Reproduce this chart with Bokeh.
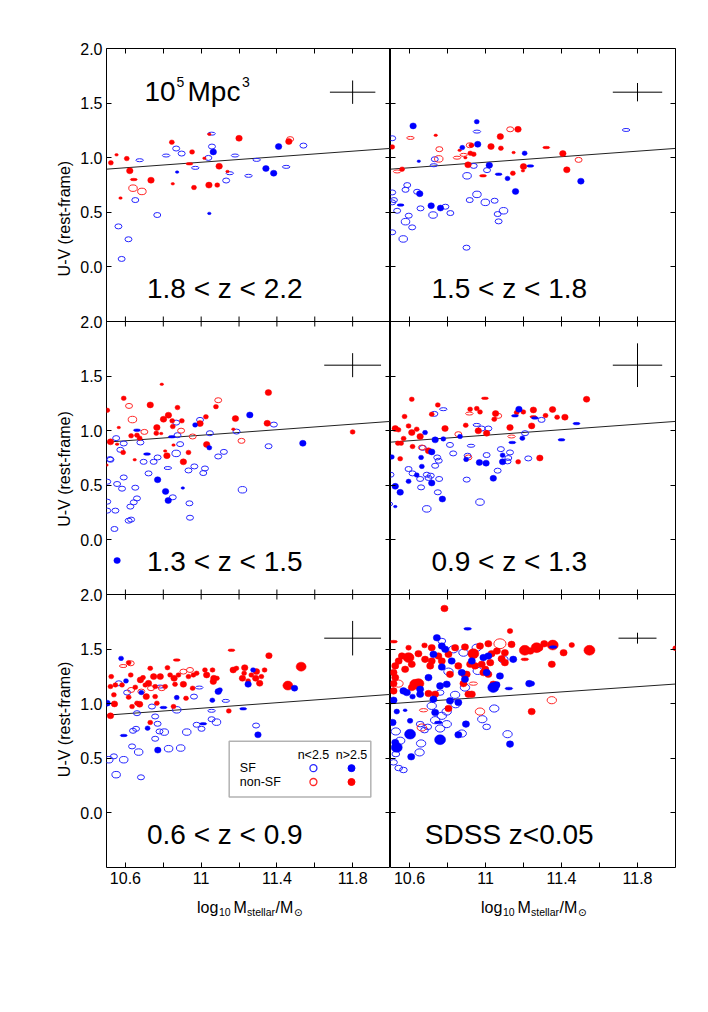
import numpy as np
from bokeh.plotting import figure
from bokeh.layouts import row, column
from bokeh.models import (Range1d, LinearAxis, FixedTicker, CustomJSTickFormatter,
                          Label, ColumnDataSource, BoxAnnotation, Span)
from bokeh.embed import file_html
from bokeh.resources import INLINE

# ---------------------------------------------------------------- data
# each point: (log10 M*, U-V, apparent size class 0 tiny,1 normal,2 large,3 flat,4 very large)
# SF = star forming (blue), Q = non-SF (red); LT: n<2.5 (open), GT: n>2.5 (filled)

P1_SF_LT = [(10.563,0.371,1),(10.616,0.253,1),(10.58,0.073,1),(10.652,0.612,1),(10.768,0.475,1),
            (10.675,0.977,3),(10.815,1.02,3),(10.868,1.084,1),(10.897,1.038,1),(10.969,0.907,3),
            (11.038,0.998,1),(11.055,1.22,3),(11.057,1.102,1),(11.179,1.02,3),(11.132,0.791,1),
            (11.151,0.858,3),(11.25,0.834,3),(11.293,0.98,3),(11.449,0.916,3),(11.54,1.111,1)]
P1_SF_GT = [(10.873,0.868,0),(11.064,1.053,2),(11.043,0.49,0),(11.342,0.901,2),(11.383,0.858,2),
            (11.409,1.102,2)]
P1_Q_LT = [(10.64,0.721,2),(10.687,0.691,2),(11.47,1.17,1)]
P1_Q_GT = [(10.523,0.953,1),(10.553,1.026,0),(10.607,0.992,1),(10.623,0.88,2),(10.735,0.794,2),
           (10.845,1.142,1),(10.85,0.761,0),(10.574,0.63,0),(10.952,1.053,1),(10.938,0.944,3),
           (10.962,0.727,1),(11.041,0.749,2),(11.085,0.749,1),(11.043,1.215,0),(11.095,0.922,2),
           (11.139,0.874,0),(11.2,1.178,2),(11.463,1.148,2),(11.017,0.995,0),(10.644,0.80,3)]

P2_SF_LT = [(10.509,1.178,1),(10.509,0.682,1),(10.518,0.612,1),(10.509,0.591,1),(10.535,0.514,1),
            (10.588,0.749,1),(10.579,0.706,1),(10.64,0.688,1),(10.658,0.536,1),(10.596,0.469,1),
            (10.579,0.414,2),(10.614,0.362,1),(10.567,0.256,2),(10.509,0.317,1),(10.724,0.475,2),
            (10.789,0.551,1),(10.815,0.493,1),(10.903,0.834,2),(10.938,0.925,1),(11.008,0.886,1),
            (10.917,0.612,1),(10.955,0.664,2),(10.999,0.591,2),(11.048,0.606,1),(11.095,0.514,2),
            (11.064,0.484,1),(11.069,0.417,1),(10.9,0.176,1),(11.74,1.254,3),(10.733,0.986,1),
            (10.955,1.239,3),(10.728,0.931,3)]
P2_SF_GT = [(10.619,1.291,2),(10.954,1.33,1),(10.959,1.123,2),(10.878,1.093,1),(10.649,0.968,0),
            (11.02,0.931,2),(11.069,0.849,3),(11.116,0.81,1),(11.206,1.041,1),(11.236,0.925,3),
            (11.158,0.691,2),(11.502,0.785,2),(10.654,0.67,2),(10.553,0.566,3),(10.714,0.56,2),
            (10.763,0.539,2)]
P2_Q_LT = [(10.605,1.181,3),(10.757,1.078,1),(10.754,0.989,2),(10.85,1.0,3),(10.885,1.026,3),
           (10.535,0.874,3),(11.49,0.98,1),(11.13,1.26,1),(10.917,1.114,1)]
P2_Q_GT = [(10.509,1.099,1),(10.738,1.205,0),(10.926,1.114,1),(10.864,1.068,0),(10.92,1.041,1),
           (10.938,1.032,1),(11.029,1.102,2),(11.081,1.087,1),(11.078,1.193,2),(11.171,1.26,2),
           (10.908,0.935,2),(10.987,0.834,3),(11.144,0.858,1),(11.2,0.919,2),(11.197,0.88,0),
           (11.32,1.093,3),(11.407,1.038,2),(11.428,0.889,2),(10.561,0.895,1),(10.894,1.0,0),
           (11.148,1.047,0)]

P3_SF_LT = [(10.551,0.932,1),(10.591,0.883,1),(10.679,0.892,1),(10.573,0.825,1),(10.521,0.734,1),
            (10.696,0.715,1),(10.749,0.715,1),(10.77,0.755,1),(10.868,0.792,2),(10.889,0.877,1),
            (10.875,0.959,1),(10.868,1.074,1),(10.994,1.099,1),(11.046,0.977,1),(11.187,0.992,1),
            (11.384,1.056,1),(11.356,0.858,1),(11.09,0.764,1),(11.12,0.806,1),(10.824,0.658,3),
            (10.722,0.609,1),(10.591,0.572,1),(10.504,0.533,1),(10.556,0.512,1),(10.582,0.469,1),
            (10.652,0.478,1),(10.661,0.38,1),(10.644,0.344,1),(10.626,0.305,1),(10.547,0.268,1),
            (10.504,0.268,1),(10.617,0.176,1),(10.63,0.186,1),(10.542,0.1,1),(10.504,0.35,1),
            (10.85,0.39,1),(10.938,0.335,1),(10.941,0.203,1),(10.933,0.636,1),(10.964,0.673,1),
            (11.011,0.612,1),(11.02,0.654,1),(11.218,0.459,2),(10.518,0.74,1)]
P3_SF_GT = [(10.661,1.005,3),(10.845,0.944,3),(10.714,0.786,3),(10.77,0.551,2),(10.812,0.444,2),
            (10.826,0.361,2),(10.903,0.475,0),(10.968,1.053,1),(11.043,0.844,1),(11.257,1.144,2),
            (11.537,0.885,2),(10.556,-0.189,2)]
P3_Q_LT = [(10.619,1.227,1),(10.637,1.102,2),(10.7,0.989,1),(11.09,1.279,1),(10.894,1.0,1),
           (10.955,0.947,1),(11.213,0.907,1)]
P3_Q_GT = [(10.792,1.425,0),(10.591,1.297,1),(10.731,1.236,2),(10.504,1.187,1),(10.875,1.212,1),
           (10.827,1.142,2),(10.801,1.105,2),(10.847,1.09,1),(10.898,1.09,1),(10.766,1.029,2),
           (10.763,0.977,1),(10.789,0.974,0),(10.85,1.038,1),(10.994,1.065,2),(11.025,1.127,1),
           (11.078,1.22,1),(11.181,1.111,2),(11.355,1.349,2),(11.349,1.068,2),(11.8,0.989,1),
           (10.63,0.953,1),(10.661,0.959,1),(10.675,0.932,1),(10.565,1.029,0),(10.521,0.898,2),
           (10.556,0.877,0),(10.588,0.801,1),(10.819,0.771,2),(10.81,0.814,0),(10.933,0.801,1),
           (10.906,0.715,2),(11.029,0.874,2),(10.854,0.868,0),(10.649,0.734,0),(10.5,0.685,0),
           (11.17,1.014,0)]

P4_SF_LT = [(10.778,1.197,3),(10.731,1.154,1),(10.954,1.053,3),(11.015,1.02,1),(10.813,0.87,1),
            (10.83,0.792,1),(10.67,0.843,1),(10.746,0.755,1),(10.754,0.725,1),(10.735,0.679,1),
            (10.595,0.649,1),(10.616,0.609,1),(10.691,0.597,1),(10.712,0.588,1),(10.756,0.558,1),
            (10.7,0.567,1),(10.656,0.558,1),(10.901,0.552,1),(10.661,0.481,1),(10.749,0.436,1),
            (10.691,0.284,2),(10.971,0.346,2),(10.924,0.862,3),(10.906,0.771,1),(11.006,0.777,1),
            (11.081,0.831,1),(11.129,0.801,1),(11.12,0.75,1),(11.116,0.719,1),(11.064,0.634,1),
            (11.225,0.746,1),(11.208,0.977,1),(10.98,1.02,1),(11.295,1.099,1),(10.498,0.329,0),
            (10.5,0.597,1)]
P4_SF_GT = [(10.682,0.983,1),(10.735,0.916,2),(10.778,0.925,1),(10.866,0.947,1),(10.717,0.806,2),
            (10.661,0.755,1),(10.665,0.673,1),(10.638,0.594,1),(10.595,0.536,1),(10.507,0.76,1),
            (10.525,0.491,2),(10.551,0.436,2),(10.717,0.521,2),(10.773,0.374,2),(10.898,0.737,1),
            (10.968,0.709,2),(11.003,0.703,2),(11.09,0.715,2),(11.09,0.776,1),(11.041,0.564,2),
            (11.194,0.932,1),(11.176,1.197,2),(11.155,1.136,3),(11.4,0.916,3),(11.479,1.065,3),
            (11.141,0.892,3),(11.26,1.117,3),(10.525,0.305,0)]
P4_Q_LT = [(10.915,1.157,3),(11.067,1.136,1),(10.857,0.968,1),(10.665,0.846,1),(10.91,0.755,1),
           (11.137,0.947,3)]
P4_Q_GT = [(10.612,1.288,1),(10.749,1.236,1),(10.574,1.13,1),(10.525,1.02,2),(10.542,1.008,1),
           (10.595,1.044,1),(10.638,1.014,1),(10.612,0.983,2),(10.656,0.947,2),(10.569,0.929,1),
           (10.539,0.886,1),(10.556,0.886,1),(10.616,0.855,1),(10.7,0.816,2),(10.551,0.743,1),
           (10.717,1.151,1),(10.787,1.02,2),(10.896,1.05,1),(10.919,1.197,1),(10.954,1.203,1),
           (10.971,1.172,1),(10.962,0.999,2),(11.006,0.977,2),(10.997,1.297,3),(11.053,1.157,2),
           (11.046,1.105,1),(11.129,1.029,2),(11.243,1.044,2),(11.172,0.715,1),(11.286,0.75,2),
           (11.164,1.166,1),(11.199,1.172,1),(11.252,1.19,2),(11.316,1.139,1),(11.353,1.194,2),
           (11.377,1.124,1),(11.418,1.124,2),(11.532,1.288,2),(11.252,1.127,3)]

P5_SF_LT = [(10.512,0.487,2),(10.539,0.518,1),(10.591,0.487,2),(10.551,0.35,2),(10.635,0.609,1),
            (10.67,0.557,2),(10.64,0.752,1),(10.656,0.77,1),(10.682,0.326,1),(10.661,0.913,1),
            (10.757,0.883,1),(10.74,0.974,1),(10.77,0.816,1),(10.78,0.746,1),(10.805,0.74,2),
            (10.757,0.679,1),(10.828,0.588,2),(10.892,0.594,2),(10.924,0.74,2),(10.871,0.944,2),
            (10.962,1.065,1),(10.976,0.807,1),(11.002,0.77,1),(11.055,0.858,1),(11.081,0.831,2),
            (11.055,0.935,3),(11.13,1.026,3),(10.99,1.148,3),(10.784,1.157,3),(11.29,0.8,1),
            (10.609,1.102,1),(10.565,1.187,1)]
P5_SF_GT = [(10.577,1.415,1),(10.603,1.209,1),(10.684,1.102,1),(10.591,0.709,3),(10.717,0.776,1),
            (10.771,0.575,2),(10.801,0.965,3),(10.871,1.056,1),(11.011,0.816,3),(11.059,1.032,1),
            (11.09,1.111,2),(11.099,1.126,1),(11.248,1.178,2),(11.274,1.309,1),(11.3,0.715,2),
            (11.493,1.142,2),(11.222,0.953,3),(10.503,1.005,2)]
P5_Q_LT = [(10.588,1.345,3),(10.628,1.37,1),(10.63,1.126,1),(10.735,1.142,1),(10.792,1.142,1),
           (10.941,1.309,1),(10.906,1.294,1),(10.684,1.111,1)]
P5_Q_GT = [(10.525,1.248,1),(10.521,1.157,1),(10.547,1.172,1),(10.539,1.081,1),(10.542,0.998,2),
           (10.521,0.889,2),(10.582,1.172,1),(10.617,1.376,1),(10.628,1.263,1),(10.617,1.06,1),
           (10.635,0.974,1),(10.661,1.005,1),(10.652,1.151,1),(10.679,1.218,2),(10.693,1.239,1),
           (10.731,1.324,1),(10.705,1.172,1),(10.722,1.187,2),(10.749,1.248,2),(10.71,1.065,2),
           (10.757,1.157,1),(10.784,1.248,2),(10.757,1.065,1),(10.675,0.995,2),(10.731,0.828,1),
           (10.822,1.33,1),(10.836,1.263,1),(10.81,1.157,1),(10.857,1.233,2),(10.871,1.4,3),
           (10.862,1.178,1),(10.88,1.263,1),(10.906,1.178,2),(10.933,1.248,1),(10.955,1.142,1),
           (10.959,1.263,1),(10.976,1.279,1),(11.029,1.263,2),(11.02,1.309,1),(11.06,1.309,1),
           (11.067,1.233,2),(11.064,1.203,2),(11.083,1.233,1),(11.146,0.934,1),(11.16,1.49,3),
           (11.169,1.309,2),(11.186,1.324,1),(11.218,1.233,2),(11.23,1.33,2),(11.227,1.279,1),
           (11.248,1.209,1),(11.265,1.263,1),(11.288,1.233,2),(11.292,1.294,2),(11.318,1.248,1),
           (11.309,1.187,2),(11.358,1.44,2),(11.335,1.309,1),(11.458,1.166,4),(11.528,1.339,4),
           (10.854,0.974,1),(10.871,1.062,0),(10.92,1.05,1),(10.766,1.005,1)]

P6_SF_LT = [(10.77,1.574,1),(10.831,1.498,2),(10.884,1.467,2),(10.954,1.513,2),(10.892,1.148,2),
            (10.959,1.3,2),(11.094,1.406,2),(10.805,1.294,2),(10.761,1.102,1),(10.717,0.98,2),
            (10.796,0.928,2),(10.77,0.889,2),(10.735,0.849,2),(10.796,0.813,2),(10.761,0.773,2),
            (10.696,0.788,1),(10.656,0.813,1),(10.679,0.758,1),(10.84,1.081,2),(10.843,0.995,2),
            (10.983,0.858,2),(11.006,0.788,1),(11.046,0.956,2),(10.875,0.727,2),(10.661,0.636,2),
            (10.653,0.554,2),(10.528,0.746,2),(10.551,0.661,2),(10.528,0.539,1),(10.516,0.463,1),
            (10.543,0.411,1),(10.568,0.393,1),(11.116,0.721,2)]
P6_SF_GT = [(10.906,1.686,3),(10.744,1.604,2),(10.77,1.528,2),(10.788,1.498,2),(10.822,1.391,2),
            (10.726,1.452,2),(10.77,1.336,2),(10.7,1.239,2),(10.796,1.178,2),(10.761,1.163,2),
            (10.656,1.132,2),(10.568,1.117,2),(10.586,1.102,2),(10.656,1.087,2),(10.616,1.065,1),
            (10.726,1.041,2),(10.857,1.011,2),(10.516,1.032,2),(10.533,0.928,1),(10.577,0.94,0),
            (10.603,0.843,1),(10.511,0.828,2),(10.603,0.721,4),(10.533,0.6,4),(10.525,0.645,2),
            (10.609,0.514,2),(10.761,0.67,4),(10.857,0.715,2),(10.897,0.813,2),(10.752,0.828,3),
            (10.735,0.919,2),(10.813,1.026,2),(10.875,1.285,2),(10.892,1.224,2),(10.989,1.422,2),
            (11.015,1.437,2),(10.928,1.391,2),(11.006,1.285,2),(11.041,1.148,4),(11.058,1.172,2),
            (11.076,1.254,2),(11.123,1.139,3),(11.146,1.406,2),(11.23,1.184,2),(11.129,0.63,2),
            (11.244,1.184,1),(11.356,1.519,3)]
P6_Q_LT = [(11.076,1.549,4),(10.971,0.928,2),(10.674,0.94,3),(10.665,0.782,2),(10.936,1.184,3),
           (10.542,1.184,2),(11.349,1.032,2)]
P6_Q_GT = [(10.784,1.872,2),(11.129,1.665,1),(10.516,1.568,3),(10.595,1.513,1),(10.717,1.513,2),
           (10.679,1.534,1),(10.56,1.437,2),(10.595,1.422,4),(10.543,1.391,2),(10.612,1.361,2),
           (10.525,1.346,2),(10.516,1.285,2),(10.577,1.315,2),(10.647,1.458,2),(10.682,1.406,2),
           (10.709,1.346,2),(10.752,1.437,2),(10.77,1.391,2),(10.805,1.452,2),(10.84,1.513,2),
           (10.892,1.519,2),(10.857,1.346,2),(10.813,1.269,2),(10.919,1.361,2),(10.936,1.458,4),
           (10.971,1.528,2),(11.015,1.549,2),(11.032,1.458,2),(11.06,1.482,2),(11.137,1.543,2),
           (11.207,1.489,4),(11.207,1.406,3),(11.269,1.513,4),(11.102,1.467,2),(10.98,1.361,2),
           (11.025,1.376,2),(10.999,1.315,2),(11.015,1.269,2),(11.085,1.412,2),(11.102,1.376,2),
           (10.945,1.346,2),(10.901,1.269,2),(10.63,1.178,4),(10.647,1.184,4),(10.612,1.148,2),
           (10.516,1.184,2),(10.525,1.239,2),(10.516,1.117,2),(10.7,1.093,2),(10.735,1.087,2),
           (10.889,1.269,2),(10.884,1.184,2),(10.928,1.087,2),(10.91,1.087,2),(11.041,1.178,2),
           (10.805,0.956,2),(11.243,0.928,2),(10.717,1.391,2),(10.989,1.285,2),(11.236,1.482,2),
           (11.284,1.513,2),(11.309,1.549,2),(11.354,1.537,4),(11.411,1.467,2),(11.454,1.537,1),
           (11.547,1.489,4),(11.349,1.361,2),(12.0,1.507,1)]

PANEL_LABELS = ["1.8 < z < 2.2", "1.5 < z < 1.8", "1.3 < z < 1.5",
                "0.9 < z < 1.3", "0.6 < z < 0.9", "SDSS z<0.05"]
# dividing line: U-V at the two mass limits
FIT_X = [10.5, 12.0]
FIT_Y = [[0.895, 1.085], [0.895, 1.085], [0.895, 1.085],
         [0.895, 1.085], [0.895, 1.085], [1.0, 1.18]]
# typical error bars (half widths)
ERR_DX = [0.12, 0.13, 0.15, 0.13, 0.15, 0.10]
ERR_DY = [0.107, 0.084, 0.11, 0.20, 0.158, 0.05]

X_MAJOR = [10.6, 11.0, 11.4, 11.8]
X_MINOR = [10.8, 11.2, 11.6]
Y_VALUES = [0.0, 0.5, 1.0, 1.5, 2.0]

PANELS = [
    [(P1_SF_LT, P1_SF_GT, P1_Q_LT, P1_Q_GT), (P2_SF_LT, P2_SF_GT, P2_Q_LT, P2_Q_GT)],
    [(P3_SF_LT, P3_SF_GT, P3_Q_LT, P3_Q_GT), (P4_SF_LT, P4_SF_GT, P4_Q_LT, P4_Q_GT)],
    [(P5_SF_LT, P5_SF_GT, P5_Q_LT, P5_Q_GT), (P6_SF_LT, P6_SF_GT, P6_Q_LT, P6_Q_GT)],
]

# ---------------------------------------------------------------- style / layout
FONT = "Liberation Sans"
BLUE, RED = "#0000ff", "#ff0000"
OPEN_BLUE, OPEN_RED = "#2626ff", "#ff2626"
X0, X1 = 10.5, 12.0
Y_MIN, Y_MAX = -0.5, 2.0
SPAN = Y_MAX - Y_MIN
NROWS = 3
ROW_PX = 273
FRAME_H = ROW_PX * NROWS
FRAME_W = 284
PX_Y = SPAN * NROWS / FRAME_H      # stacked units per pixel
PX_X = (X1 - X0) / FRAME_W         # x units per pixel

YT_W = 76            # width of the strip holding the y titles
BORDER_L = 30        # tick-label border of the left column
BORDER_T = 48
BORDER_B = 26
BORDER_R = 14
COL_H = BORDER_T + FRAME_H + BORDER_B
XT_H = 40            # height of the strip holding the x titles

OPEN_SIZE = {0: (5, 3.5), 1: (7, 5), 2: (8.5, 6.5), 3: (7.5, 3), 4: (11, 9)}
FILL_SIZE = {0: (3.5, 2.5), 1: (5, 4.5), 2: (6.5, 6), 3: (7, 2.5), 4: (10, 9)}
SDSS_SCALE = 1.1


def stack(y, r):
    """row value -> coordinate on the stacked (column) axis"""
    return y - Y_MIN + SPAN * (NROWS - 1 - r)


def source(pts, sizes, scale=1.0):
    return ColumnDataSource(dict(
        x=[p[0] for p in pts], y=[p[1] for p in pts],
        w=[sizes[p[2]][0] * scale for p in pts],
        h=[sizes[p[2]][1] * scale for p in pts]))


def tick_axis(ticker, formatter=None):
    ax = LinearAxis(ticker=ticker)
    ax.axis_line_color = None
    ax.major_tick_in, ax.major_tick_out = 5, 0
    ax.minor_tick_in, ax.minor_tick_out = 5, 0
    ax.major_tick_line_color = "black"
    ax.minor_tick_line_color = "black"
    ax.major_tick_line_width = 1
    ax.minor_tick_line_width = 1
    if formatter is not None:
        ax.formatter = formatter
        ax.major_label_text_font = FONT
        ax.major_label_text_font_size = "16px"
        ax.major_label_text_color = "black"
        ax.major_label_standoff = 4
    else:
        ax.formatter = CustomJSTickFormatter(code="return ''")
        ax.major_label_text_font_size = "0px"
        ax.major_label_standoff = 0
    return ax


def label(p, x, y, text, size, align="left", baseline="alphabetic", angle=0.0, font=FONT):
    p.add_layout(Label(x=x, y=y, text=text, text_font=font, text_font_size=size,
                       text_align=align, text_baseline=baseline, angle=angle,
                       text_color="black"))


def text_strip(w, h):
    """a bare figure whose data units are pixels, used to hold titles"""
    p = figure(width=w, height=h, x_range=Range1d(0, w), y_range=Range1d(0, h),
               x_axis_location=None, y_axis_location=None, toolbar_location=None,
               output_backend="svg", min_border=0, outline_line_color=None,
               background_fill_color="white", border_fill_color="white")
    p.grid.visible = False
    return p


stack_ticks = sorted({stack(v, r) for r in range(NROWS) for v in Y_VALUES})
x_fmt = CustomJSTickFormatter(code="""
    return Math.abs(tick - Math.round(tick)) < 1e-9 ? tick.toFixed(0) : tick.toFixed(1);""")
y_fmt = CustomJSTickFormatter(args=dict(lo=Y_MIN, span=SPAN), code="""
    const v = (((tick + lo) % span) + span) % span;
    return v.toFixed(1);""")


def make_column(c):
    left = c == 0
    p = figure(frame_width=FRAME_W if left else FRAME_W + 1, frame_height=FRAME_H,
               x_range=Range1d(X0, X1), y_range=Range1d(0, SPAN * NROWS),
               x_axis_location=None, y_axis_location=None,
               toolbar_location=None, output_backend="svg",
               min_border_left=BORDER_L if left else 0, min_border_right=0 if left else BORDER_R,
               min_border_top=BORDER_T, min_border_bottom=BORDER_B,
               background_fill_color="white", border_fill_color="white",
               outline_line_color="black", outline_line_width=1.0)
    p.grid.visible = False
    p.extra_y_ranges = {f"r{r}": Range1d(Y_MIN - SPAN * (NROWS - 1 - r), Y_MAX + SPAN * r)
                        for r in range(NROWS)}
    p.add_layout(tick_axis(FixedTicker(ticks=X_MAJOR, minor_ticks=X_MINOR), x_fmt), "below")
    p.add_layout(tick_axis(FixedTicker(ticks=X_MAJOR, minor_ticks=X_MINOR)), "above")
    p.add_layout(tick_axis(FixedTicker(ticks=stack_ticks, minor_ticks=[]),
                           y_fmt if left else None), "left")
    p.add_layout(tick_axis(FixedTicker(ticks=stack_ticks, minor_ticks=[])), "right")

    # panel boundaries between rows, with ticks on both sides
    for r in range(1, NROWS):
        b = stack(Y_MIN, r - 1)
        p.add_layout(Span(location=b, dimension="width", line_color="black", line_width=1.2))
        p.scatter(x=X_MAJOR + X_MINOR, y=[b] * (len(X_MAJOR) + len(X_MINOR)),
                  marker="dash", size=10, angle=np.pi / 2, line_color="black", line_width=1)

    for r in range(NROWS):
        k = r * 2 + c
        rn = f"r{r}"
        sf_lt, sf_gt, q_lt, q_gt = PANELS[r][c]
        sc = SDSS_SCALE if k == 5 else 1.0
        p.line(FIT_X, FIT_Y[k], y_range_name=rn, line_color="#222222", line_width=1)
        p.ellipse(x="x", y="y", width="w", height="h", width_units="screen", height_units="screen",
                  source=source(sf_lt, OPEN_SIZE, sc), y_range_name=rn,
                  fill_color=None, line_color=OPEN_BLUE, line_width=1)
        p.ellipse(x="x", y="y", width="w", height="h", width_units="screen", height_units="screen",
                  source=source(q_lt, OPEN_SIZE, sc), y_range_name=rn,
                  fill_color=None, line_color=OPEN_RED, line_width=1)
        p.ellipse(x="x", y="y", width="w", height="h", width_units="screen", height_units="screen",
                  source=source(q_gt, FILL_SIZE, sc), y_range_name=rn,
                  fill_color=RED, line_color=RED, line_width=0.5)
        p.ellipse(x="x", y="y", width="w", height="h", width_units="screen", height_units="screen",
                  source=source(sf_gt, FILL_SIZE, sc), y_range_name=rn,
                  fill_color=BLUE, line_color=BLUE, line_width=0.5)
        ex, ey = 11.8, 1.6
        p.segment(x0=[ex - ERR_DX[k]], y0=[ey], x1=[ex + ERR_DX[k]], y1=[ey],
                  y_range_name=rn, line_color="black", line_width=1)
        p.segment(x0=[ex], y0=[ey - ERR_DY[k]], x1=[ex], y1=[ey + ERR_DY[k]],
                  y_range_name=rn, line_color="black", line_width=1)
        label(p, 11.125, stack(-0.20, r), PANEL_LABELS[k], "28px", align="center")
    return p


left_p = make_column(0)
right_p = make_column(1)

# volume label in the top-left panel
label(left_p, X0 + 38 * PX_X, stack(1.61, 0), "10", "28px")
label(left_p, X0 + 70 * PX_X, stack(1.69, 0), "5", "14px")
label(left_p, X0 + 81 * PX_X, stack(1.61, 0), "Mpc", "28px")
label(left_p, X0 + 135.5 * PX_X, stack(1.69, 0), "3", "14px")

# legend (bottom-left panel)
LB_L, LB_R, LB_B, LB_T = 11.148, 11.896, 0.146, 0.655
left_p.add_layout(BoxAnnotation(left=LB_L, right=LB_R, bottom=stack(LB_B, 2), top=stack(LB_T, 2),
                                fill_color=None, line_color="black", line_width=1.5))
col1, col2 = LB_L + 0.445, LB_L + 0.646
row_h, row_sf, row_q = LB_T - 0.123, LB_T - 0.245, LB_T - 0.372
label(left_p, col1, stack(row_h, 2), "n<2.5", "12.5px", align="center", baseline="middle")
label(left_p, col2, stack(row_h, 2), "n>2.5", "12.5px", align="center", baseline="middle")
label(left_p, LB_L + 0.056, stack(row_sf, 2), "SF", "12.5px", baseline="middle")
label(left_p, LB_L + 0.056, stack(row_q, 2), "non-SF", "12.5px", baseline="middle")
left_p.scatter(x=[col1], y=[stack(row_sf, 2)], marker="circle", size=7,
               fill_color=None, line_color=OPEN_BLUE, line_width=1.3)
left_p.scatter(x=[col2], y=[stack(row_sf, 2)], marker="circle", size=7,
               fill_color=BLUE, line_color=BLUE)
left_p.scatter(x=[col1], y=[stack(row_q, 2)], marker="circle", size=7,
               fill_color=None, line_color=OPEN_RED, line_width=1.3)
left_p.scatter(x=[col2], y=[stack(row_q, 2)], marker="circle", size=7,
               fill_color=RED, line_color=RED)

# y titles, one per row
ytitles = text_strip(YT_W, COL_H)
for r in range(NROWS):
    yc = COL_H - (BORDER_T + ROW_PX * (r + 0.5)) - 1
    label(ytitles, 64, yc, "U-V (rest-frame)", "16px",
          align="center", baseline="middle", angle=np.pi / 2)

# x titles: log10 Mstellar / M_sun under each column
total_w = YT_W + BORDER_L + FRAME_W + FRAME_W + 1 + BORDER_R
xtitles = text_strip(total_w, XT_H)
yb, ys = XT_H - 14, XT_H - 18
for c in range(2):
    x0 = YT_W + BORDER_L + c * FRAME_W
    label(xtitles, x0 + 90.5, yb, "log", "16px")
    label(xtitles, x0 + 112.5, ys, "10", "10.5px")
    label(xtitles, x0 + 127, yb, "M", "16px")
    label(xtitles, x0 + 140.5, ys, "stellar", "10.5px")
    label(xtitles, x0 + 169, yb, "/M", "16px")
    label(xtitles, x0 + 187.5, ys, "\u2299", "10.5px", font="DejaVu Sans")

layout = column(row(ytitles, left_p, right_p), xtitles)
open("out.html", "w").write(file_html(layout, INLINE))
